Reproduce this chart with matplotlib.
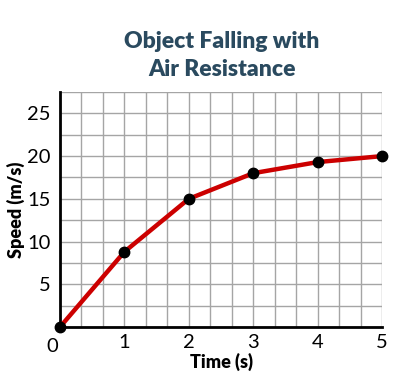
import matplotlib.pyplot as plt
from matplotlib.ticker import MultipleLocator

time_s = [0, 1, 2, 3, 4, 5]
speed = [0, 8.8, 15.0, 18.0, 19.3, 20.0]
x_ticks = [1, 2, 3, 4, 5]
y_ticks = [5, 10, 15, 20, 25]

fig = plt.figure(figsize=(4.09, 3.85), dpi=100)
ax = fig.add_axes([0.1467, 0.1506, 0.7873, 0.6104])

ax.set_xlim(0, 5)
ax.set_ylim(0, 27.5)

# grid: 3 cells per second, 2 cells per 5 m/s
ax.xaxis.set_minor_locator(MultipleLocator(1 / 3))
ax.yaxis.set_minor_locator(MultipleLocator(2.5))
ax.grid(which='both', color='#a5a5a5', linewidth=1)
ax.set_axisbelow(True)

ax.set_xticks(x_ticks)
ax.set_yticks(y_ticks)
ax.tick_params(which='both', length=0, labelsize=14.5, colors='black')
ax.tick_params(axis='x', pad=5)
ax.tick_params(axis='y', pad=7)
for lab in ax.get_xticklabels() + ax.get_yticklabels():
    lab.set_family('Lato')

for s in ['top', 'right']:
    ax.spines[s].set_visible(False)
for s in ['left', 'bottom']:
    ax.spines[s].set_linewidth(2)
    ax.spines[s].set_zorder(3)

ax.plot(time_s, speed, color='#cc0000', linewidth=3.2, zorder=4, clip_on=False)
ax.plot(time_s, speed, 'o', color='black', markersize=7.5, zorder=5, clip_on=False)

ax.text(-0.03, -1.3, '0', ha='right', va='top', fontsize=14.5, family='Lato')

ax.set_xlabel('Time (s)', fontsize=13, fontweight='heavy', family='Lato', labelpad=1)
ax.set_ylabel('Speed (m/s)', fontsize=13, fontweight='heavy', family='Lato', labelpad=1)

fig.text(0.543, 0.856, 'Object Falling with\nAir Resistance', ha='center', va='center',
         fontsize=16.5, fontweight='heavy', color='#2a4a5f', family='Lato', linespacing=1.4)

fig.savefig('out.png', dpi=100)
